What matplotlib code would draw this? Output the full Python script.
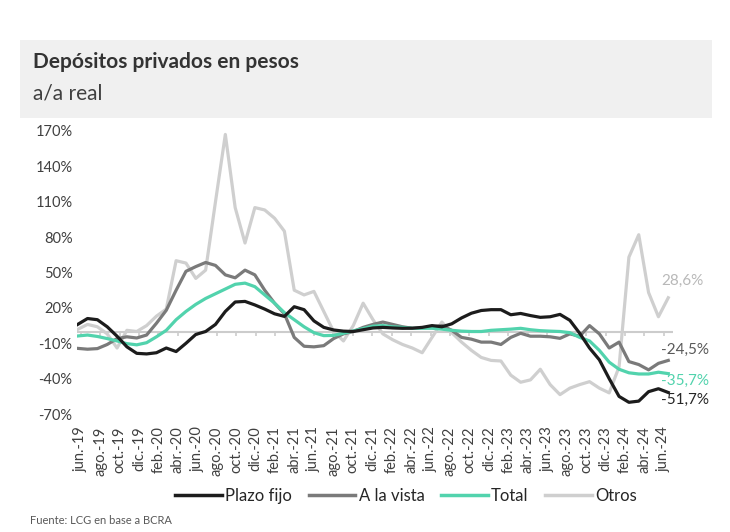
import matplotlib
matplotlib.use("Agg")
import matplotlib.pyplot as plt
from matplotlib.patches import Rectangle
import numpy as np

plt.rcParams['font.family'] = ['Lato', 'DejaVu Sans']

# ---- data (a/a real, %), monthly jun-19 .. jun-24 ----
months = ["jun.-19", "jul.-19", "ago.-19", "sep.-19", "oct.-19", "nov.-19", "dic.-19",
          "ene.-20", "feb.-20", "mar.-20", "abr.-20", "may.-20", "jun.-20", "jul.-20",
          "ago.-20", "sep.-20", "oct.-20", "nov.-20", "dic.-20", "ene.-21", "feb.-21",
          "mar.-21", "abr.-21", "may.-21", "jun.-21", "jul.-21", "ago.-21", "sep.-21",
          "oct.-21", "nov.-21", "dic.-21", "ene.-22", "feb.-22", "mar.-22", "abr.-22",
          "may.-22", "jun.-22", "jul.-22", "ago.-22", "sep.-22", "oct.-22", "nov.-22",
          "dic.-22", "ene.-23", "feb.-23", "mar.-23", "abr.-23", "may.-23", "jun.-23",
          "jul.-23", "ago.-23", "sep.-23", "oct.-23", "nov.-23", "dic.-23", "ene.-24",
          "feb.-24", "mar.-24", "abr.-24", "may.-24", "jun.-24"]

plazo_fijo = [6, 11, 10, 4, -4, -13, -18.5, -19, -18, -14, -17, -10, -2.5, 0, 6, 17,
              25, 25.5, 22.5, 19, 15, 12.8, 21, 18.5, 9, 3.5, 1.3, 0.3, 0, 1.5, 3,
              3.5, 3, 2.7, 2.8, 3.5, 5, 4, 6.5, 11.5, 15.5, 17.8, 18.5, 18.5, 14.2,
              15.3, 13.5, 12, 12.5, 14.5, 9.5, -1.5, -14, -24, -40, -55, -60, -59,
              -51, -48.5, -51.7]

a_la_vista = [-14.3, -15, -14.5, -11, -6, -4.5, -5.5, -3, 7, 18, 35, 51, 55, 58.5,
              56, 48, 45.5, 52, 48, 35, 24, 15, -5, -12.5, -13, -12, -6, -2, 0,
              3.5, 6, 8, 6, 4, 2.7, 3, 4, 5, 1, -5, -6.5, -9, -9, -11, -5, -1.5,
              -4, -4, -4.5, -5.8, -2, -4, 5, -2, -14, -9, -25.5, -28, -32.5, -27,
              -24.5]

total = [-3.8, -3, -4.2, -6, -8, -10.3, -11.3, -9.5, -4.5, 1, 10, 17, 23, 28, 32,
         36, 40, 41, 38, 31, 24, 16, 10, 4, -1, -3.5, -3.3, -1.5, 0.5, 2.5, 4.5, 5,
         4, 3.5, 2.7, 2.7, 2.7, 2, 1, 0.3, 0, 0, 1, 1.5, 2, 2.7, 1.5, 0.7, 0.3, 0,
         -1, -5, -8, -16, -26, -32, -35, -36, -36, -34.5, -35.7]

otros = [1.8, 6, 4, -2, -14, 1, 0, 5, 13, 19, 60, 58, 45, 52, 110, 167, 105, 75,
         105, 103, 96, 85, 35, 31, 34, 17, 0, -8, 5, 24, 10, -2, -7, -11, -14, -18,
         -5, 8, -1, -9, -16, -22, -24.5, -25, -37, -43, -41, -32, -45, -53.5, -48,
         -45, -42.5, -48, -52, -30, 63, 82, 33, 12.5, 28.6]

series_names = ["Plazo fijo", "A la vista", "Total", "Otros"]
end_labels = ["-51,7%", "-24,5%", "-35,7%", "28,6%"]
yticks = [170, 140, 110, 80, 50, 20, -10, -40, -70]

colors = {"Plazo fijo": "#1c1c1c", "A la vista": "#7a7a7a",
          "Total": "#52d3ad", "Otros": "#cfcfcf"}
label_colors = {"Plazo fijo": "#262626", "A la vista": "#595959",
                "Total": "#52d3ad", "Otros": "#b8b8b8"}

W, H = 730, 532
fig = plt.figure(figsize=(W / 100, H / 100), dpi=100)

# title box
fig.patches.append(Rectangle((20 / W, 1 - 118 / H), 692 / W, 78 / H,
                             transform=fig.transFigure, facecolor="#f0f0f0",
                             edgecolor="none", zorder=0))
fig.text(33 / W, 1 - 62 / H, "Depósitos privados en pesos", fontsize=15,
         fontweight="bold", color="#333333", va="center", ha="left")
fig.text(33 / W, 1 - 93 / H, "a/a real", fontsize=15, color="#404040",
         va="center", ha="left")

# axes
left_px, right_px, top_px, bot_px = 76.7, 672.7, 130.9, 414.1
ax = fig.add_axes([left_px / W, 1 - bot_px / H, (right_px - left_px) / W,
                   (bot_px - top_px) / H])
ax.set_xlim(-0.1, 60.45)
ax.set_ylim(-70, 170)
for s in ax.spines.values():
    s.set_visible(False)

x = np.arange(len(months))
data = {"Plazo fijo": plazo_fijo, "A la vista": a_la_vista,
        "Total": total, "Otros": otros}

# zero axis line with ticks
ax.axhline(0, color="#cccccc", lw=1.5, zorder=1)
tick_pos = np.linspace(0.3, 59.55, 31)
for tp in tick_pos:
    ax.plot([tp, tp], [0, -3.5], color="#cccccc", lw=1.2, zorder=1,
            solid_capstyle="butt")

order = ["Otros", "A la vista", "Total", "Plazo fijo"]
handles = {}
for name in order:
    ln, = ax.plot(x, data[name], color=colors[name], lw=2.3, zorder=3,
                  solid_joinstyle="round", label=name)
    handles[name] = ln

# end labels
offsets = {"Plazo fijo": -6.5, "A la vista": 8.8, "Total": -6.2, "Otros": 14}
for name, lab in zip(series_names, end_labels):
    ax.text(59.3, data[name][-1] + offsets[name], lab, fontsize=11,
            color=label_colors[name], ha="left", va="center", zorder=4,
            clip_on=False)

ax.set_yticks(yticks)
ax.set_yticklabels([f"{v}%" for v in yticks], fontsize=10.5, color="#404040")
ax.tick_params(axis="y", length=0, pad=3)
ax.set_xticks(tick_pos[:len(months[::2])])
ax.set_xticklabels(months[::2], rotation=90, fontsize=10.5, color="#404040")
ax.tick_params(axis="x", length=0, pad=9)

leg = fig.legend([handles[n] for n in series_names], series_names,
                 loc="center", bbox_to_anchor=(406 / W, 1 - 496 / H), ncol=4,
                 frameon=False, fontsize=12, handlelength=2.8,
                 handletextpad=0.2, columnspacing=1.0)
for t in leg.get_texts():
    t.set_color("#262626")
for l in leg.get_lines():
    l.set_linewidth(2.5)

fig.text(30 / W, 1 - 521 / H, "Fuente: LCG en base a BCRA", fontsize=8,
         color="#595959", ha="left", va="center")

fig.savefig("out.png", dpi=100)
